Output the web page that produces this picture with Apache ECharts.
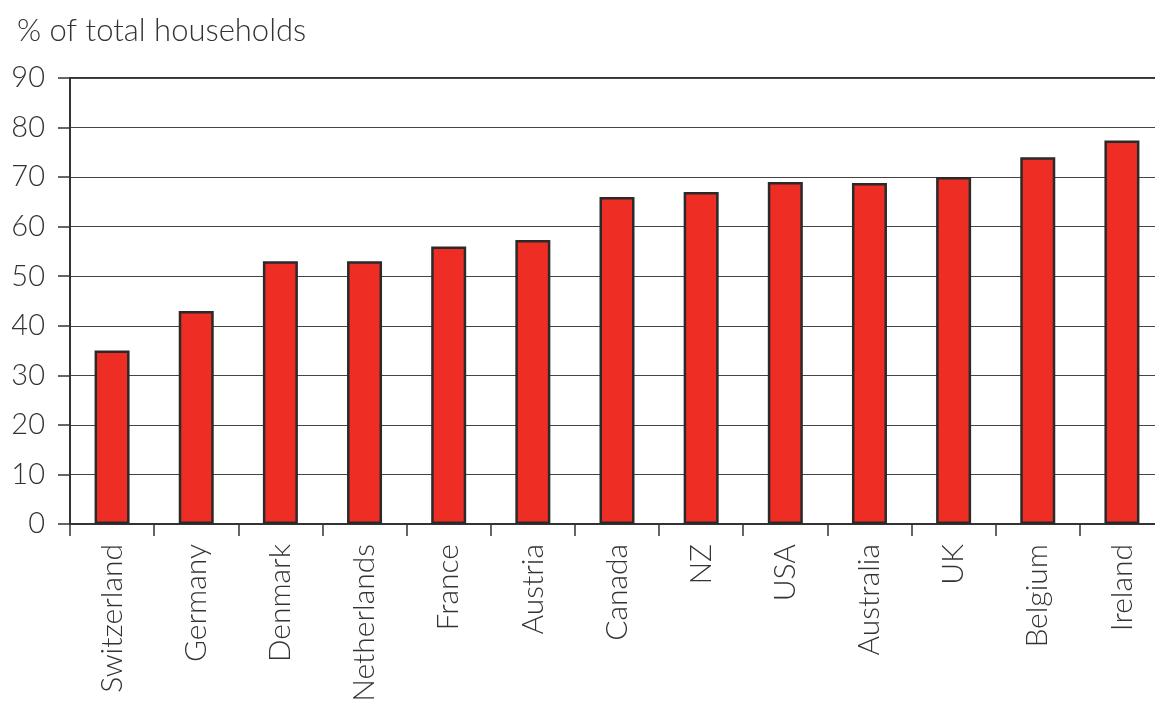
<!DOCTYPE html>
<html><head><meta charset="utf-8">
<script src="https://cdn.jsdelivr.net/npm/echarts@6/dist/echarts.min.js"></script>
<style>html,body{margin:0;padding:0;background:#fff}#c{width:1155px;height:706px}</style>
</head><body><div id="c"></div>
<script>
const categories = ['Switzerland','Germany','Denmark','Netherlands','France','Austria','Canada','NZ','USA','Australia','UK','Belgium','Ireland'];
const values = [35, 43, 53, 53, 56, 57.3, 66, 67, 69, 68.8, 70, 74, 77.4];
const yTitle = '% of total households';

const chart = echarts.init(document.getElementById('c'), null, {renderer:'canvas'});
const font = 'Lato';
chart.setOption({
  animation: false,
  graphic: [{type:'text', left: 17, top: 15, style:{text: yTitle, font: '300 31px Lato', fill:'#333'}}],
  grid: {left: 70, width: 1094, top: 78, bottom: 182, outerBoundsMode: 'none', containLabel: false, show: true, borderColor:'#333', borderWidth: 2, backgroundColor:'transparent'},
  xAxis: {
    type:'category', data: categories,
    axisLine:{lineStyle:{color:'#333', width:2}},
    axisTick:{show:true, length:12, lineStyle:{color:'#333', width:1.5}},
    axisLabel:{rotate:90, margin:20, fontFamily:font, fontWeight:300, fontSize:30, color:'#333'}
  },
  yAxis: {
    type:'value', min:0, max:90, interval:10,
    axisLine:{show:true, lineStyle:{color:'#333', width:2}},
    axisTick:{show:true, length:12, lineStyle:{color:'#333', width:1.5}},
    splitLine:{lineStyle:{color:'#444', width:1.2}},
    axisLabel:{margin:25, fontFamily:font, fontWeight:300, fontSize:29, color:'#333'}
  },
  series: [{
    type:'bar', data: values, barWidth: 35, barCategoryGap: '58%',
    itemStyle:{color:'#ee2e24', borderColor:'#2a2a2a', borderWidth:2.5}
  }]
});
</script></body></html>
